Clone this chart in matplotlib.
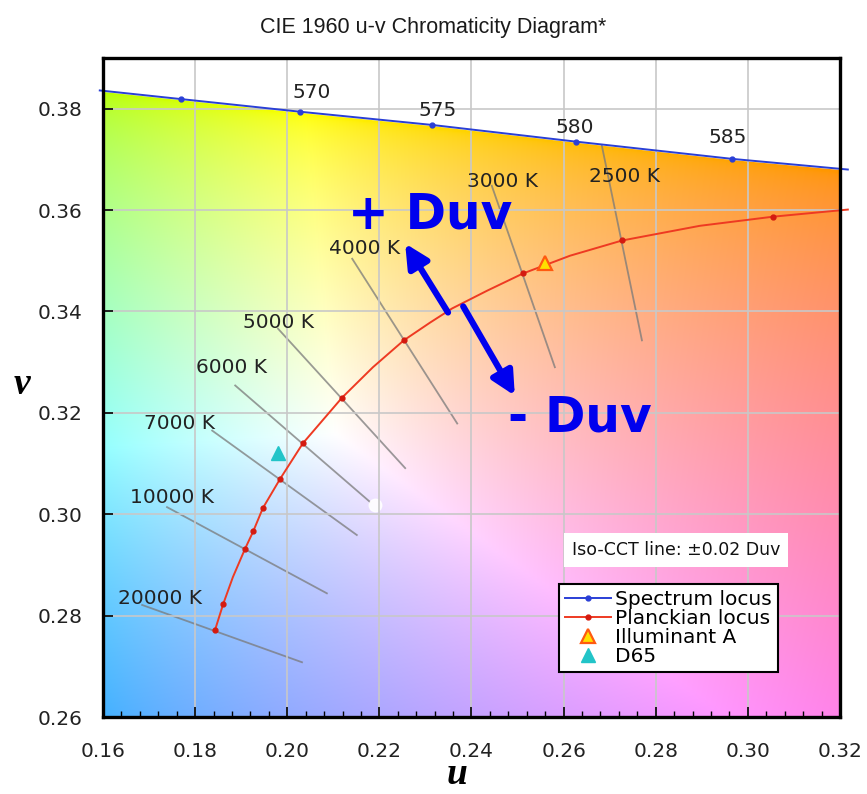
import numpy as np
import matplotlib
matplotlib.use('Agg')
import matplotlib.pyplot as plt
from matplotlib.lines import Line2D

# spectrum locus (u, v)
spec_u = [0.1593, 0.1769, 0.2028, 0.2314, 0.2627, 0.2966, 0.3217]
spec_v = [0.3836, 0.3819, 0.3794, 0.3768, 0.3735, 0.3701, 0.3680]
spec_marks = [1, 2, 3, 4, 5]
wl_labels = ['570', '575', '580', '585']
wl_u = [0.2052, 0.2327, 0.2625, 0.2957]
wl_v = [0.3831, 0.3796, 0.3762, 0.3743]

# planckian locus
planck_u = [0.1843, 0.1861, 0.1882, 0.1908, 0.1926, 0.1947, 0.1984, 0.2034, 0.2119,
            0.2186, 0.2253, 0.2310, 0.2358, 0.2434, 0.2512, 0.2614, 0.2727, 0.2896,
            0.3055, 0.3217]
planck_v = [0.2771, 0.2823, 0.2876, 0.2931, 0.2966, 0.3012, 0.3069, 0.3140, 0.3230,
            0.3290, 0.3343, 0.3378, 0.3406, 0.3441, 0.3475, 0.3510, 0.3540, 0.3569,
            0.3587, 0.3601]
planck_marks = [0, 1, 3, 4, 5, 6, 7, 8, 10, 14, 16, 18]

# iso-CCT lines (+/-0.02 Duv)
cct_labels = ['20000 K', '10000 K', '7000 K', '6000 K', '5000 K', '4000 K', '3000 K', '2500 K']
iso_u0 = [0.1685, 0.1739, 0.1837, 0.1887, 0.1980, 0.2141, 0.2444, 0.2683]
iso_v0 = [0.2821, 0.3014, 0.3165, 0.3254, 0.3366, 0.3504, 0.3648, 0.3727]
iso_u1 = [0.2032, 0.2086, 0.2151, 0.2180, 0.2256, 0.2369, 0.2581, 0.2770]
iso_v1 = [0.2708, 0.2844, 0.2959, 0.3024, 0.3091, 0.3179, 0.3290, 0.3343]
lab_u = [0.1724, 0.1750, 0.1767, 0.1878, 0.1982, 0.2167, 0.2468, 0.2733]
lab_v = [0.2834, 0.3033, 0.3179, 0.3290, 0.3378, 0.3524, 0.3656, 0.3666]

illum_a = (0.2560, 0.3495)
d65 = (0.1980, 0.3120)
white_pt = (0.2191, 0.3018)

# Duv arrows (tail, tip)
arrow_up = ((0.2349, 0.3398), (0.2256, 0.3534))
arrow_dn = ((0.2382, 0.3410), (0.2494, 0.3234))


def uv_background(nu=400, nv=400):
    # chromaticity colours through CIE RGB (equal-energy white)
    uu, vv = np.meshgrid(np.linspace(0.16, 0.32, nu), np.linspace(0.26, 0.39, nv))
    M = np.array([[2.3646, -0.8965, -0.4681],
                  [-0.5152, 1.4264, 0.0888],
                  [0.0052, -0.0144, 1.0092]])
    d = 2 * uu - 8 * vv + 4
    x = 3 * uu / d
    y = 2 * vv / d
    XYZ = np.stack([x / y, np.ones_like(x), (1 - x - y) / y], axis=-1)
    rgb = np.clip(XYZ @ M.T, 0, None)
    rgb = rgb / rgb.max(axis=-1, keepdims=True)
    return np.clip(rgb ** (1 / 2.0), 0, 1)


fig = plt.figure(figsize=(8.67, 7.94), dpi=100)
ax = fig.add_axes([103 / 867, 77 / 794, 737 / 867, 659 / 794])

ax.imshow(uv_background(), extent=[0.16, 0.32, 0.26, 0.39], origin='lower',
          aspect='auto', interpolation='bilinear', zorder=0)
ax.fill_between(spec_u, spec_v, 0.40, color='white', zorder=0.5)
ax.set_xlim(0.16, 0.32)
ax.set_ylim(0.26, 0.39)

ax.set_xticks(np.arange(0.16, 0.3201, 0.02))
ax.set_xticks(np.arange(0.16, 0.3201, 0.004), minor=True)
ax.set_yticks(np.arange(0.26, 0.3801, 0.02))
ax.set_xticklabels(['%.2f' % t for t in np.arange(0.16, 0.3201, 0.02)])
ax.set_yticklabels(['%.2f' % t for t in np.arange(0.26, 0.3801, 0.02)])
ax.tick_params(which='major', direction='in', length=7, width=1.2, labelsize=14.5,
               labelcolor='#222222')
ax.tick_params(which='minor', direction='in', length=4, width=1.0)
ax.tick_params(axis='x', pad=18)
ax.tick_params(axis='y', pad=15)
ax.grid(True, which='major', color='#c8c8c8', linewidth=1.2, zorder=1)
ax.set_axisbelow(False)
for sp in ax.spines.values():
    sp.set_linewidth(2.4)
    sp.set_zorder(10)

# iso-CCT lines and labels
for i in range(len(cct_labels)):
    ax.plot([iso_u0[i], iso_u1[i]], [iso_v0[i], iso_v1[i]], color='#7a7a7a',
            alpha=0.75, linewidth=1.3, zorder=2)
    ax.text(lab_u[i], lab_v[i], cct_labels[i], fontsize=14.5, color='#222222',
            ha='center', va='center', zorder=3)

# loci
ax.plot(spec_u, spec_v, color='#2a3fd6', linewidth=1.4, marker='o', markersize=3.5,
        markevery=spec_marks, clip_on=False, zorder=4)
for i in range(len(wl_labels)):
    ax.text(wl_u[i], wl_v[i], wl_labels[i], fontsize=14.5, color='#222222',
            ha='center', va='center', zorder=3)
ax.plot(planck_u, planck_v, color='#ee3a22', linewidth=1.4, marker='o', markersize=3.5,
        markerfacecolor='#d41a10', markeredgecolor='#d41a10',
        markevery=planck_marks, clip_on=False, zorder=4)

ax.plot([illum_a[0]], [illum_a[1]], marker='^', markersize=10, markerfacecolor='#ffe000',
        markeredgecolor='#ff5a10', markeredgewidth=1.6, linestyle='none', zorder=5)
ax.plot([d65[0]], [d65[1]], marker='^', markersize=10, color='#22c4c8',
        linestyle='none', zorder=5)
ax.plot([white_pt[0]], [white_pt[1]], marker='o', markersize=9, color='white',
        alpha=0.9, linestyle='none', zorder=2)

# Duv arrows and labels
for tail, tip in (arrow_up, arrow_dn):
    ax.annotate('', xy=tip, xytext=tail,
                arrowprops=dict(arrowstyle='-|>,head_length=1.4,head_width=0.7',
                                color='#0000ee', linewidth=4.5, shrinkA=0, shrinkB=0),
                zorder=6)
ax.text(0.2310, 0.3563, '+ Duv', fontsize=35, fontweight='bold', color='#0000ee',
        ha='center', va='baseline', zorder=6)
ax.text(0.2636, 0.3163, '- Duv', fontsize=35, fontweight='bold', color='#0000ee',
        ha='center', va='baseline', zorder=6)

ax.text(0.2844, 0.2930, 'Iso-CCT line: \u00b10.02 Duv', fontsize=12.5, color='#111111',
        ha='center', va='center', zorder=7,
        bbox=dict(boxstyle='square,pad=0.45', facecolor='white', edgecolor='none'))

handles = [
    Line2D([], [], color='#2a3fd6', linewidth=1.4, marker='o', markersize=3.5),
    Line2D([], [], color='#ee3a22', linewidth=1.4, marker='o', markersize=3.5,
           markerfacecolor='#d41a10', markeredgecolor='#d41a10'),
    Line2D([], [], marker='^', markersize=10, markerfacecolor='#ffe000',
           markeredgecolor='#ff5a10', markeredgewidth=1.6, linestyle='none'),
    Line2D([], [], marker='^', markersize=10, color='#22c4c8', linestyle='none'),
]
leg = ax.legend(handles, ['Spectrum locus', 'Planckian locus', 'Illuminant A', 'D65'],
                loc='upper left', bbox_to_anchor=((559 - 103) / 737, (717 - 584) / 659),
                borderaxespad=0, fontsize=14.5, labelspacing=0.0, handlelength=2.3,
                handletextpad=0.2, borderpad=0.3, fancybox=False, framealpha=1,
                edgecolor='black')
leg.get_frame().set_linewidth(1.5)
leg.set_zorder(8)

fig.text(0.5, 1 - 28 / 794, 'CIE 1960 u-v Chromaticity Diagram*', fontsize=15.5,
         family='Liberation Sans', color='#1a1a1a', ha='center', va='center')
fig.text(457 / 867, 1 - 775 / 794, 'u', fontsize=27, family='Liberation Serif',
         style='italic', fontweight='bold', ha='center', va='center')
fig.text(22 / 867, 1 - 385 / 794, 'v', fontsize=27, family='Liberation Serif',
         style='italic', fontweight='bold', ha='center', va='center')

fig.savefig('out.png', dpi=100)
